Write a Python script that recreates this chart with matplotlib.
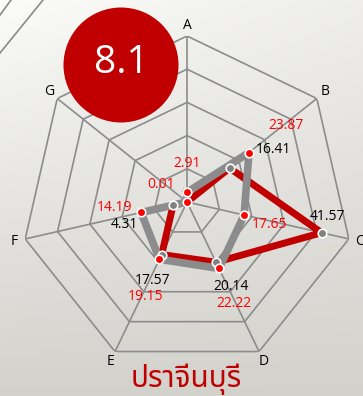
import numpy as np
import matplotlib
matplotlib.use('Agg')
import matplotlib.pyplot as plt
from matplotlib.patches import Ellipse

axis_names = ['A', 'B', 'C', 'D', 'E', 'F', 'G']
# gray line, red markers, red labels
values_1 = [2.91, 23.87, 17.65, 22.22, 19.15, 14.19, 0.01]
# red line, gray markers, black labels (A and G unlabelled)
values_2 = [0, 16.41, 41.57, 20.14, 17.57, 4.31, 0]
labels_2 = ['', '16.41', '41.57', '20.14', '17.57', '4.31', '']
score = '8.1'
title = 'ปราจีนบุรี'
r_max = 50
rings = [10, 20, 30, 40, 50]

plt.rcParams['font.family'] = ['Open Sans', 'DejaVu Sans']

W, H = 363, 396
fig = plt.figure(figsize=(W / 100, H / 100), dpi=100)

# background gradient
bg = fig.add_axes([0, 0, 1, 1])
yy, xx = np.mgrid[0:1:200j, 0:1:200j]
t = np.clip(0.85 * yy + 0.25 * xx * (1 - yy), 0, 1) ** 0.9
top = np.array([252, 252, 250]) / 255
bot = np.array([204, 203, 197]) / 255
img = top[None, None, :] * (1 - t[..., None]) + bot[None, None, :] * t[..., None]
bg.imshow(img, extent=[0, W, 0, H], aspect='auto', origin='upper')
# decorative strokes in the top-left corner
bg.plot([0, 43], [H - 53, H], color='#8a8a8a', lw=1.2)
bg.plot([0, 11], [H - 15, H], color='#8a8a8a', lw=1.2)
bg.set_xlim(0, W)
bg.set_ylim(0, H)
bg.axis('off')

ax = fig.add_axes([0.0579, 0.0707, 0.9146, 0.8384], projection='polar')
ax.set_theta_offset(np.pi / 2)
ax.set_theta_direction(-1)
ax.set_ylim(0, r_max)
ax.patch.set_alpha(0)
ax.grid(False)
ax.set_xticks([])
ax.set_yticks([])
ax.spines['polar'].set_visible(False)

n = len(axis_names)
theta = np.arange(n) * 2 * np.pi / n
theta_c = np.append(theta, theta[0])

grid_col = '#8c8c8c'
for r in rings:
    ax.plot(theta_c, [r] * (n + 1), color=grid_col, lw=1.2, zorder=1)
for th in theta:
    ax.plot([th, th], [0, r_max], color=grid_col, lw=1.2, zorder=1)
for th, name in zip(theta, axis_names):
    ax.text(th, r_max * 1.065, name, ha='center', va='center', fontsize=10, color='black')

v1 = np.append(values_1, values_1[0])
v2 = np.append(values_2, values_2[0])
ax.plot(theta_c, v2, color='#c00000', lw=5, solid_joinstyle='round', zorder=3)
ax.plot(theta_c, v1, color='#8c8c8c', lw=5.5, solid_joinstyle='round', zorder=4)
ax.scatter(theta[1:6], values_2[1:6], s=38, color='#808080', edgecolors='white', linewidths=1.2, zorder=5)
ax.scatter(theta, values_1, s=38, color='#ff0000', edgecolors='white', linewidths=1.2, zorder=6)

off_1 = [(0, 29), (37, 27), (25, -9), (15, -35), (-14, -37), (-27, 5), (-26, 17)]
off_2 = [(0, 0), (44, 19), (6, 16), (15, -24), (-9, -26), (-49, -19), (0, 0)]
for th, v, o in zip(theta, values_1, off_1):
    ax.annotate(f'{v:.2f}', (th, v), xytext=o, textcoords='offset pixels',
                ha='center', va='center', fontsize=10, color='#ff0000', zorder=7)
for th, v, lab, o in zip(theta, values_2, labels_2, off_2):
    if lab:
        ax.annotate(lab, (th, v), xytext=o, textcoords='offset pixels',
                    ha='center', va='center', fontsize=10, color='black', zorder=7)

# score badge
badge = fig.add_axes([0, 0, 1, 1], facecolor='none')
badge.set_xlim(0, W)
badge.set_ylim(0, H)
badge.axis('off')
badge.add_patch(Ellipse((121, H - 65), 115, 115, facecolor='#c00000', edgecolor='none'))
badge.text(121, H - 63, score, ha='center', va='center', fontsize=28, color='white')

badge.text(186, H - 379, title, ha='center', va='center', fontsize=21.5,
           color='#c00000', family=['Noto Sans Thai', 'Tahoma', 'Loma', 'Garuda', 'DejaVu Sans'])

fig.savefig('out.png', dpi=100)
